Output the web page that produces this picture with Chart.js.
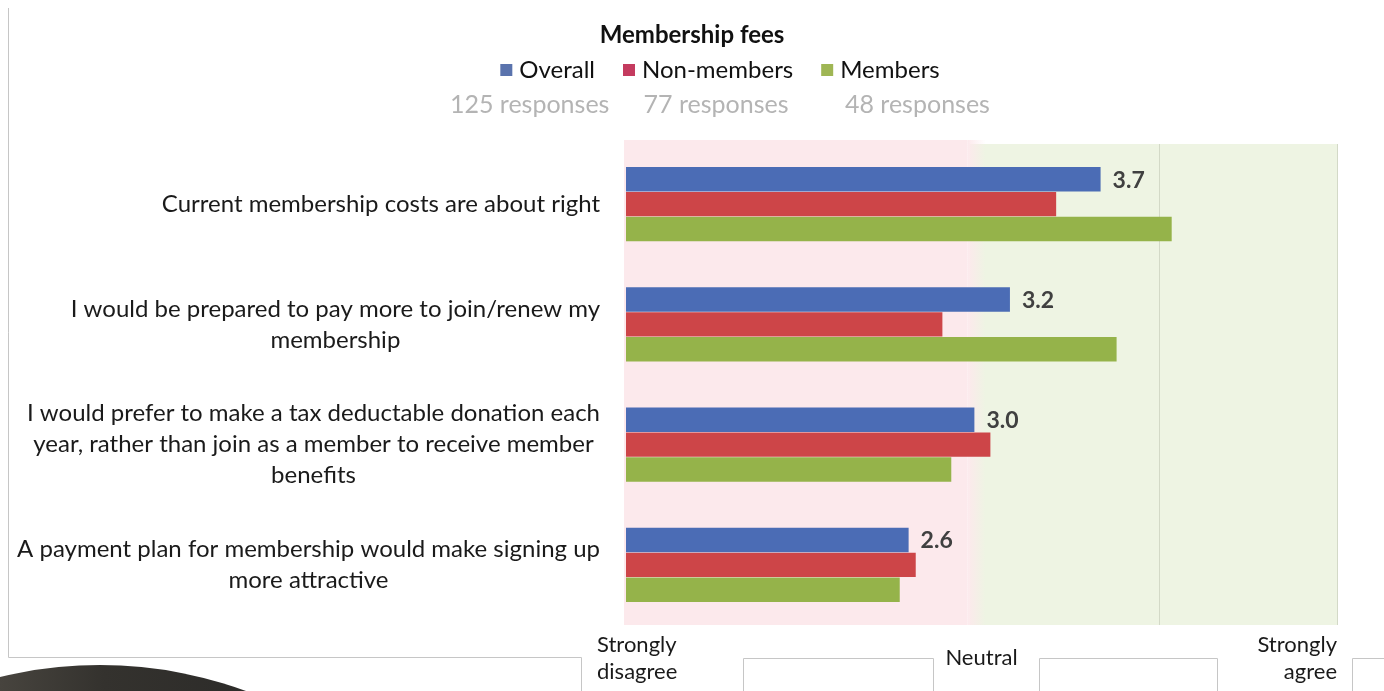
<!DOCTYPE html>
<html lang="en">
<head>
    <meta charset="UTF-8">
    <title>Membership fees</title>
    <style>
        html, body { margin: 0; padding: 0; background: #fff; }
        #wrap { width: 1384px; height: 691px; position: relative; }
    </style>
</head>
<body>
    <div id="wrap">
        <canvas id="mychart"></canvas>
    </div>
    <script src="https://cdn.jsdelivr.net/npm/chart.js"></script>
    <script>
        // survey statements, one entry per line of the label
        const categories = [
            ["Current membership costs are about right"],
            ["I would be prepared to pay more to join/renew my", "membership"],
            ["I would prefer to make a tax deductable donation each", "year, rather than join as a member to receive member", "benefits"],
            ["A payment plan for membership would make signing up", "more attractive"]
        ];
        // mean agreement, 1 = strongly disagree .. 5 = strongly agree
        const overall    = [3.67, 3.16, 2.96, 2.59];
        const nonMembers = [3.42, 2.78, 3.05, 2.63];
        const members    = [4.07, 3.76, 2.83, 2.54];

        const seriesNames = ["Overall", "Non-members", "Members"];
        const responses   = ["125 responses", "77 responses", "48 responses"];
        const scaleValues = [1, 3, 5];
        const scaleLabels = [["Strongly", "disagree"], ["Neutral"], ["Strongly", "agree"]];

        const FONT = "Lato, 'Open Sans', sans-serif";
        const barColors    = ["#4b6cb5", "#cd4548", "#95b34a"];
        const legendColors = ["#5a73ad", "#c43b5f", "#9fb654"];

        const decor = {
            id: 'decor',
            beforeDraw(chart) {
                const c = chart.ctx;
                const x = chart.scales.x;
                const area = chart.chartArea;
                c.save();
                c.fillStyle = '#fff';
                c.fillRect(0, 0, chart.width, chart.height);

                // disagree / agree halves of the plot
                const x1 = x.getPixelForValue(1), x3 = x.getPixelForValue(3), x5 = x.getPixelForValue(5);
                c.fillStyle = '#eef4e3';
                c.fillRect(x3 - 12, area.top, x5 - x3 + 12, area.bottom - area.top);
                const g = c.createLinearGradient(x3 - 14, 0, x3 + 4, 0);
                g.addColorStop(0, '#fce9ec');
                g.addColorStop(1, 'rgba(252,233,236,0)');
                c.fillStyle = '#fce9ec';
                c.fillRect(x1 - 2, area.top - 4, x3 - 14 - x1 + 2, area.bottom - area.top + 4);
                c.fillStyle = g;
                c.fillRect(x3 - 14, area.top - 4, 18, area.bottom - area.top + 4);

                // chart frame and the boxes under the scale labels
                c.strokeStyle = '#c6c6c6';
                c.lineWidth = 1;
                c.beginPath();
                c.moveTo(8.5, 8); c.lineTo(8.5, 657.5); c.lineTo(581.5, 657.5); c.lineTo(581.5, 691);
                c.moveTo(743.5, 691); c.lineTo(743.5, 658.5); c.lineTo(933.5, 658.5); c.lineTo(933.5, 691);
                c.moveTo(1039.5, 691); c.lineTo(1039.5, 658.5); c.lineTo(1217.5, 658.5); c.lineTo(1217.5, 691);
                c.moveTo(1352.5, 691); c.lineTo(1352.5, 658.5); c.lineTo(1384, 658.5);
                c.stroke();

                // dark disc in the lower left corner
                const dg = c.createLinearGradient(0, 0, 260, 0);
                dg.addColorStop(0, '#47443e');
                dg.addColorStop(0.4, '#34322e');
                dg.addColorStop(1, '#2c2b29');
                c.fillStyle = dg;
                c.beginPath();
                c.arc(100, 1088, 423, 0, Math.PI * 2);
                c.fill();
                c.restore();
            },
            afterDraw(chart) {
                const c = chart.ctx;
                const x = chart.scales.x;
                const y = chart.scales.y;
                c.save();
                c.textBaseline = 'middle';

                // title
                c.fillStyle = '#111';
                c.font = "bold 24px " + FONT;
                c.textAlign = 'center';
                c.fillText("Membership fees", 692, 35);

                // legend row, centred on 720
                c.font = "24px " + FONT;
                const gap = 28, box = 12, pad = 7;
                const widths = seriesNames.map(s => box + pad + c.measureText(s).width);
                const total = widths.reduce((a, b) => a + b, 0) + gap * (widths.length - 1);
                let lx = 720 - total / 2;
                const centres = [];
                seriesNames.forEach((s, i) => {
                    c.fillStyle = legendColors[i];
                    c.fillRect(lx, 64, box, box);
                    c.fillStyle = '#111';
                    c.textAlign = 'left';
                    c.fillText(s, lx + box + pad, 70);
                    centres.push(lx + widths[i] / 2);
                    lx += widths[i] + gap;
                });

                // response counts under the legend
                c.font = "25px " + FONT;
                c.fillStyle = '#b4b4b4';
                c.textAlign = 'center';
                const shift = [-18, 8, 37];
                responses.forEach((r, i) => c.fillText(r, centres[i] + shift[i], 105));

                // statement labels: block right-aligned, lines centred
                c.font = "24px " + FONT;
                c.fillStyle = '#1a1a1a';
                categories.forEach((lines, i) => {
                    const cy = y.getPixelForValue(i);
                    const w = Math.max(...lines.map(l => c.measureText(l).width));
                    const cx = 600 - w / 2;
                    lines.forEach((l, j) => {
                        c.fillText(l, cx, cy + (j - (lines.length - 1) / 2) * 31);
                    });
                });

                // value labels on the overall bars
                c.font = "bold 23px " + FONT;
                c.fillStyle = '#404040';
                c.textAlign = 'left';
                chart.getDatasetMeta(0).data.forEach((bar, i) => {
                    c.fillText(overall[i].toFixed(1), bar.x + 12, bar.y + 1);
                });

                // agreement scale labels
                c.font = "22px " + FONT;
                c.fillStyle = '#1a1a1a';
                scaleValues.forEach((v, i) => {
                    const px = x.getPixelForValue(v);
                    const lines = scaleLabels[i];
                    let tx = px, align = 'center';
                    if (i === 0) { tx = px - 29; align = 'left'; }
                    if (i === scaleValues.length - 1) { tx = px; align = 'right'; }
                    c.textAlign = align;
                    lines.forEach((l, j) => {
                        c.fillText(l, tx, 658 + (j - (lines.length - 1) / 2) * 27);
                    });
                });
                c.restore();
            }
        };

        const ctx = document.getElementById('mychart').getContext('2d');
        new Chart(ctx, {
            type: 'bar',
            data: {
                labels: categories,
                datasets: [
                    { label: seriesNames[0], data: overall,    backgroundColor: barColors[0] },
                    { label: seriesNames[1], data: nonMembers, backgroundColor: barColors[1] },
                    { label: seriesNames[2], data: members,    backgroundColor: barColors[2] }
                ]
            },
            options: {
                indexAxis: 'y',
                responsive: true,
                maintainAspectRatio: false,
                animation: false,
                datasets: {
                    bar: { categoryPercentage: 0.62, barPercentage: 0.98 }
                },
                layout: { padding: { left: 626, right: 47, top: 144, bottom: 66 } },
                scales: {
                    x: {
                        min: 1, max: 5,
                        ticks: { display: false, stepSize: 1 },
                        grid: {
                            drawTicks: false,
                            color: (t) => (t.tick && t.tick.value >= 4) ? '#d3d9c7' : 'rgba(0,0,0,0)'
                        },
                        border: { display: false }
                    },
                    y: { display: false }
                },
                plugins: {
                    legend: { display: false },
                    title: { display: false },
                    tooltip: { enabled: false }
                }
            },
            plugins: [decor]
        });
    </script>
</body>
</html>
